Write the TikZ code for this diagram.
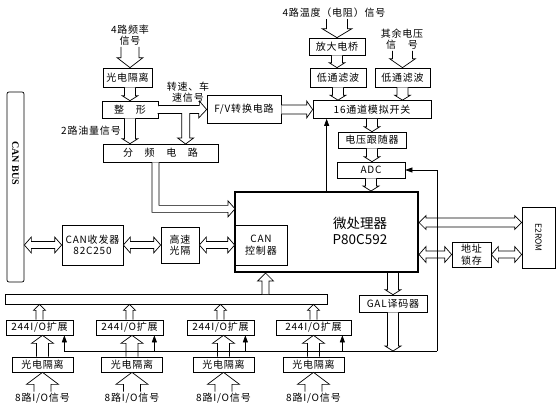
\documentclass[tikz,border=0pt]{standalone}
\usepackage{fontspec}
\newfontfamily\cjk[LetterSpace=8]{Noto Sans CJK SC}
\newfontfamily\cjkbig{Noto Sans CJK SC}
\newfontfamily\timesbf{Liberation Serif}
\usetikzlibrary{calc,arrows.meta}

\tikzset{
  fat/.style args={#1/#2/#3}{draw, fill=white, to path={
      let \p1=(\tikztostart), \p2=(\tikztotarget),
          \n1={atan2(\y2-\y1,\x2-\x1)}, \n2={veclen(\x2-\x1,\y2-\y1)} in
      {[shift={(\p1)}, rotate=\n1]
        (0,#1) -- (\n2-#3,#1) -- (\n2-#3,#2) -- (\n2,0)
        -- (\n2-#3,-#2) -- (\n2-#3,-#1) -- (0,-#1)}}},
  fatboth/.style args={#1/#2/#3}{draw, fill=white, to path={
      let \p1=(\tikztostart), \p2=(\tikztotarget),
          \n1={atan2(\y2-\y1,\x2-\x1)}, \n2={veclen(\x2-\x1,\y2-\y1)} in
      {[shift={(\p1)}, rotate=\n1]
        (0,0) -- (#3,#2) -- (#3,#1) -- (\n2-#3,#1) -- (\n2-#3,#2) -- (\n2,0)
        -- (\n2-#3,-#2) -- (\n2-#3,-#1) -- (#3,-#1) -- (#3,-#2) -- cycle}}},
  pipe/.style={fat=5.5/8/5},
  wide/.style={fat=9/13/10},
  link/.style={fatboth=3.5/8/7},
  box/.style={draw, inner sep=0pt, align=center, font=\cjk\fontsize{10}{11.5}\selectfont},
  lbl/.style={inner sep=1pt, align=center, font=\cjk\fontsize{10}{11.5}\selectfont},
  sig/.style={-{Triangle[length=7pt,width=5pt]}},
}

\begin{document}
\begin{tikzpicture}[x=1pt, y=-1pt, line width=0.7pt]
  \useasboundingbox[fill=white] (0,0) rectangle (560,407);

  % frequency / speed chain
  \node[lbl] (freqtxt) at (130,35) {4路频率\\信号};
  \node[box, minimum width=49pt, minimum height=19pt] (gd) at (127.5,77.5) {光电隔离};
  \node[box, minimum width=56pt, minimum height=17pt] (zx) at (130,109.5) {整　形};
  \node[lbl] (speedtxt) at (188,92) {转速、车\\速信号};
  \node[box, minimum width=74pt, minimum height=28pt] (fv) at (244,109.5) {F/V转换电路};
  \node[lbl] (oiltxt) at (91,131) {2路油量信号};
  \node[box, minimum width=115pt, minimum height=18pt] (fp) at (160.5,153) {分　频　电　路};

  % analog inputs
  \node[lbl] (temptxt) at (334,13) {4路温度（电阻）信号};
  \node[box, minimum width=56pt, minimum height=17pt] (fd) at (337,46.5) {放大电桥};
  \node[box, minimum width=56pt, minimum height=19pt] (lp1) at (338,77.5) {低通滤波};
  \node[lbl] (volttxt) at (402,39) {其余电压\\信　号};
  \node[box, minimum width=55pt, minimum height=19pt] (lp2) at (402.5,77.5) {低通滤波};
  \node[box, minimum width=118pt, minimum height=18pt] (mux) at (372,109.5) {16通道模拟开关};
  \node[box, minimum width=68pt, minimum height=16pt] (vf) at (372,140) {电压跟随器};
  \node[box, minimum width=68pt, minimum height=16pt] (adc) at (371,170) {ADC};

  % processor
  \node[draw, line width=2pt, minimum width=183pt, minimum height=80pt] (cpu) at (326.5,232) {};
  \node[box, minimum width=52pt, minimum height=40pt] (canctl) at (261,245) {CAN\\控制器};
  \node[align=center, font=\cjkbig\fontsize{13.5}{16}\selectfont] (cputxt) at (360,231) {微处理器\\P80C592};

  % CAN side
  \node[draw, rounded corners=2pt, inner sep=0pt, minimum width=17pt, minimum height=190pt] (canbus) at (15.5,187) {};
  \node[rotate=-90, font=\timesbf\bfseries\fontsize{10}{12}\selectfont] (bustxt) at (15.5,163) {CAN BUS};
  \node[box, minimum width=61pt, minimum height=40pt] (cantr) at (92.5,245) {CAN收发器\\82C250};
  \node[box, minimum width=38pt, minimum height=36pt] (hsopto) at (180,245) {高速\\光隔};

  % memory side
  \node[box, minimum width=33pt, minimum height=61pt] (rom) at (538.5,237.5) {};
  \node[rotate=-90, font=\cjkbig\fontsize{8.5}{10}\selectfont] (romtxt) at (rom.center) {E2ROM};
  \node[box, minimum width=39pt, minimum height=25pt] (latch) at (471.5,254.5) {地址\\锁存};
  \node[box, minimum width=68pt, minimum height=17pt] (gal) at (393,303.5) {GAL译码器};

  % I/O side
  \node[draw, inner sep=0pt, minimum width=322pt, minimum height=10pt] (iobus) at (166,299) {};
  \foreach \i/\cx/\w in {1/39.5/67pt, 2/129.5/67pt, 3/220.5/67pt, 4/313.5/75pt}
    \node[box, minimum width=\w, minimum height=15pt] (ex\i) at (\cx,327.5) {244I/O扩展};
  \foreach \i/\cx in {1/42.5, 2/132, 3/223.5, 4/313.5}
    {
      \node[box, minimum width=61pt, minimum height=15pt] (gdb\i) at (\cx,364.5) {光电隔离};
      \node[lbl] (io\i) at (\cx,398) {8路I/O信号};
    }

  % hollow arrows
  \draw[wide] (freqtxt.south) to (freqtxt.south |- gd.north);
  \draw[pipe] (zx.north |- gd.south) to (zx.north);
  \draw[fill=white] (zx.east) ++(0,-4) -- ++(41,0) -- ++(0,-4.5) -- (fv.west) -- ++(-8,8.5)
    -- ++(0,-4.5) -- ++(-9,0) -- ++(0,24.5) -- ++(4,0) -- ++(-8,6) -- ++(-8,-6) -- ++(4,0)
    -- ++(0,-24.5) -- ++(-24,0);
  \draw[pipe] (zx.south) to (zx.south |- fp.north);
  \draw[fill=white] (fp.south) ++(-8.5,0) -- ++(0,50) -- ++(76,0) -- ++(0,4.5) -- ++(7,-8)
    -- ++(-7,-8) -- ++(0,4.5) -- ++(-69,0) -- ++(0,-43);

  \draw[fat=10.5/15/9] (fd.north |- temptxt.south) to (fd.north);
  \draw[pipe] (fd.south) to (fd.south |- lp1.north);
  \draw[fat=10/13/9] (lp2.north |- volttxt.south) to (lp2.north);
  \draw[pipe] (lp1.south) to (lp1.south |- mux.north);
  \draw[pipe] (lp2.south) to (lp2.south |- mux.north);
  \draw[fat=4.5/8.5/6] (fv.east) to (fv.east -| mux.west);
  \draw[pipe] (vf.north |- mux.south) to (vf.north);
  \draw[pipe] (vf.south) to (vf.south |- adc.north);
  \draw[pipe] (adc.south) to (adc.south |- cpu.north);

  \draw[link] (cantr.west -| canbus.east) to (cantr.west);
  \draw[link] (cantr.east) to (cantr.east -| hsopto.west);
  \draw[link] (hsopto.east) to (hsopto.east -| canctl.west);

  \coordinate (romio) at ([yshift=15pt]rom.west);
  \draw[fatboth=4.5/7/7] (romio -| cpu.east) to (romio);
  \draw[link] (latch.west -| cpu.east) to (latch.west);
  \draw[link] (latch.east) to (latch.east -| rom.west);

  \coordinate (ctl) at (437,351);
  \draw[pipe] (gal.north |- cpu.south) to (gal.north);
  \draw[pipe] (gal.south) to (gal.south |- ctl);

  \coordinate (busup) at (265.5,294);
  \draw[fat=3.5/8/8] (busup) to (busup |- cpu.south);
  \foreach \i in {1,...,4}
    {
      \draw[fat=8.5/16/12] (io\i.north) to (io\i.north |- gdb\i.south);
      \draw[fat=6/11/8] (gdb\i.north) to (gdb\i.north |- ex\i.south);
      \draw[fat=3.5/6/6] (ex\i.north) to (ex\i.north |- iobus.south);
    }

  % control lines
  \coordinate (adin) at ([xshift=14pt]mux.south west);
  \draw[sig] (adin |- cpu.north) -- (adin);
  \draw[sig] (ctl) |- (adc.east);
  \foreach \i in {1,...,4}
    {
      \coordinate (en\i) at ([xshift=-9pt]ex\i.south east);
      \draw[sig] (en\i |- ctl) -- (en\i);
    }
  \draw (ctl) -- (en1 |- ctl);
\end{tikzpicture}
\end{document}
